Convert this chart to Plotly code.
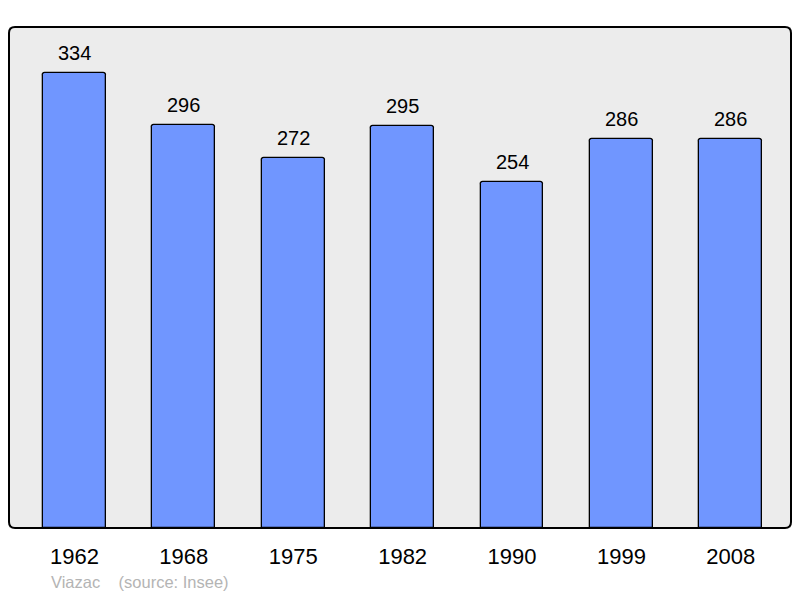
import plotly.graph_objects as go

years = ["1962", "1968", "1975", "1982", "1990", "1999", "2008"]
population = [334, 296, 272, 295, 254, 286, 286]

W, H = 800, 598
L, R, T, B = 9, 9, 27, 70
FONT = "Liberation Sans, Arial, sans-serif"

xpos = list(range(len(years)))

fig = go.Figure()
fig.add_trace(go.Bar(
    x=xpos, y=population, width=0.574,
    marker=dict(color="#7096ff", line=dict(color="#000000", width=1.3), cornerradius=3),
    hoverinfo="skip",
))

for xi, v in zip(xpos, population):
    fig.add_annotation(x=xi, y=v, text=str(v), showarrow=False, yanchor="bottom",
                       yshift=7, font=dict(size=20, color="#000000", family=FONT))

# rounded plot frame
rx, ry = 6 / (W - L - R), 6 / (H - T - B)
path = (f"M {rx},0 L {1-rx},0 Q 1,0 1,{ry} L 1,{1-ry} Q 1,1 {1-rx},1 "
        f"L {rx},1 Q 0,1 0,{1-ry} L 0,{ry} Q 0,0 {rx},0 Z")
fig.add_shape(type="path", path=path, xref="paper", yref="paper",
              line=dict(color="#000000", width=2), layer="above")

fig.add_annotation(xref="paper", yref="paper", x=(48.5 - L) / (W - L - R), y=-(582 - (H - B)) / (H - T - B),
                   xanchor="left", yanchor="middle", showarrow=False,
                   text="Viazac &nbsp;&nbsp;&nbsp;(source: Insee)",
                   font=dict(size=16.5, color="#b4b4b4", family=FONT))

fig.update_xaxes(range=[-0.598, 6.55], tickmode="array", tickvals=xpos, ticktext=years,
                 showgrid=False, zeroline=False, showline=False,
                 ticks="outside", ticklen=9, tickcolor="rgba(0,0,0,0)",
                 tickfont=dict(size=22, color="#000000", family=FONT))
fig.update_yaxes(range=[0, 368], showgrid=False, zeroline=False, showline=False,
                 showticklabels=False)

fig.update_layout(width=W, height=H, margin=dict(l=L, r=R, t=T, b=B),
                  plot_bgcolor="#ececec", paper_bgcolor="#ffffff", showlegend=False,
                  bargap=0)

fig.write_html("out.html", config={"displayModeBar": False},
               post_script="document.body.style.margin='0';")
